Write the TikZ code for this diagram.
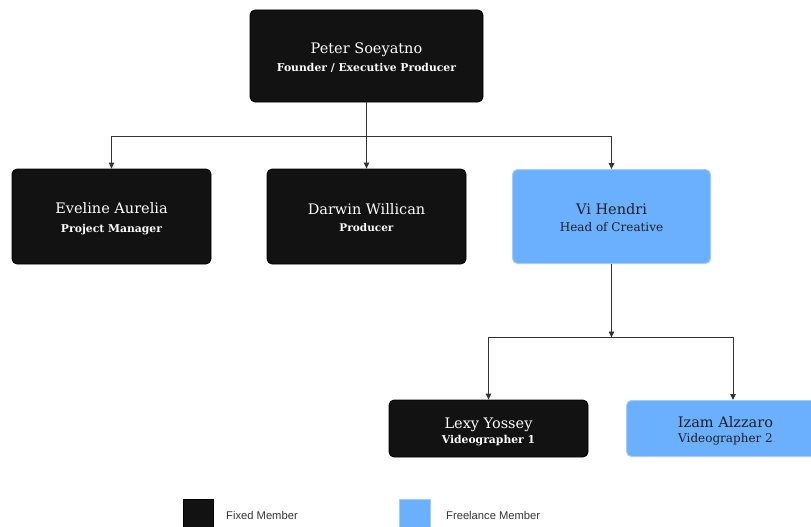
\documentclass[tikz,border=0pt]{standalone}
\usepackage{fontspec}
\setmainfont{DejaVu Serif}
\newfontfamily\legendfont{Liberation Sans}
\usetikzlibrary{arrows.meta}
\definecolor{boxblack}{HTML}{121212}
\definecolor{boxblue}{HTML}{6BB0FF}
\definecolor{blueedge}{HTML}{A3CBFF}
\definecolor{linegray}{HTML}{333333}
\definecolor{legtext}{HTML}{333333}
\tikzset{
  fixedbox/.style={draw=black, fill=boxblack, rounded corners=5pt, inner sep=0pt, line width=0.8pt},
  freebox/.style={draw=blueedge, fill=boxblue, rounded corners=5pt, inner sep=0pt, line width=1pt},
  fixedtxt/.style={text=white, align=center, inner sep=0pt},
  freetxt/.style={text=black!88, align=center, inner sep=0pt},
  conn/.style={draw=linegray, line width=0.9pt},
  arr/.style={conn, -{Triangle[length=6pt,width=5.5pt]}},
  legbox/.style={inner sep=0pt, anchor=north west},
  legtxt/.style={anchor=west, inner sep=0pt, text=legtext, font=\legendfont\fontsize{11.2}{13}\selectfont},
}
\newcommand{\nm}[1]{{\fontsize{14.5}{18}\selectfont #1}}
\newcommand{\sbold}[1]{{\fontsize{10.8}{13}\selectfont\bfseries #1}}
\newcommand{\sreg}[1]{{\fontsize{12}{14}\selectfont #1}}
\begin{document}
\begin{tikzpicture}[x=1pt,y=-1pt]
\useasboundingbox (0,0) rectangle (811,527);
\begin{scope}
\clip (0,0) rectangle (811,527);
\node[fixedbox, minimum width=233pt, minimum height=92pt] (top) at (366.5,56) {};
\node[fixedtxt] (toptxt) at ([yshift=-2pt]top.center) {\nm{Peter Soeyatno}\\[6pt]\sbold{Founder / Executive Producer}};
\node[fixedbox, minimum width=199pt, minimum height=95pt] (eveline) at (111.5,216.5) {};
\node[fixedtxt] (evelinetxt) at ([yshift=-2.5pt]eveline.center) {\nm{Eveline Aurelia}\\[7pt]\sbold{Project Manager}};
\node[fixedbox, minimum width=199pt, minimum height=95pt] (darwin) at (366.5,216.5) {};
\node[fixedtxt] (darwintxt) at ([yshift=-1.5pt]darwin.center) {\nm{Darwin Willican}\\[5pt]{\fontsize{10.5}{12}\selectfont\bfseries Producer}};
\node[freebox, minimum width=198pt, minimum height=94pt] (vi) at (611.5,216.5) {};
\node[freetxt] (vitxt) at ([yshift=-1pt]vi.center) {\nm{Vi Hendri}\\[5pt]\sreg{Head of Creative}};
\node[fixedbox, minimum width=199pt, minimum height=57pt] (lexy) at (488.5,428.5) {};
\node[fixedtxt] (lexytxt) at ([yshift=-3pt]lexy.center) {\nm{Lexy Yossey}\\[3pt]\sbold{Videographer 1}};
\node[freebox, minimum width=198pt, minimum height=56pt] (izam) at (725.5,428.5) {};
\node[freetxt] (izamtxt) at ([yshift=-2.5pt]izam.center) {\nm{Izam Alzzaro}\\[3.5pt]\sreg{Videographer 2}};

\coordinate (j1) at (366.5,136.5);
\coordinate (j2) at (611.5,337.5);
\draw[arr] (top.south) -- (darwin.north);
\draw[arr] (j1) -| (eveline.north);
\draw[arr] (j1) -| (vi.north);
\draw[arr] (vi.south) -- (j2);
\draw[arr] (j2) -| (lexy.north);
\draw[arr] (j2) -| ([xshift=7.5pt]izam.north);

\node[legbox, fill=boxblack, draw=black, minimum width=30pt, minimum height=32pt] (legfixed) at (183,499) {};
\node[legbox, fill=boxblue, draw=blueedge, minimum width=31pt, minimum height=32pt] (legfree) at (399,499) {};
\node[legtxt] (legfixedtxt) at (226,515) {Fixed Member};
\node[legtxt] (legfreetxt) at (446,515) {Freelance Member};
\end{scope}
\end{tikzpicture}
\end{document}
